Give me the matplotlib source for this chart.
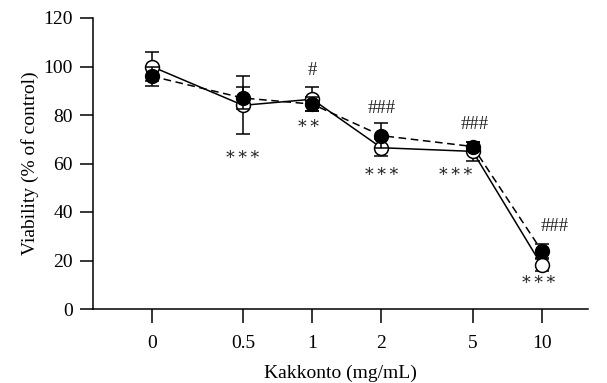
import matplotlib
matplotlib.use("Agg")
import matplotlib.pyplot as plt
import numpy as np

plt.rcParams['font.family'] = ['Liberation Serif', 'DejaVu Serif']

dose_labels = ["0", "0.5", "1", "2", "5", "10"]
dose_pos = [0.2, 0.5, 1, 2, 5, 10]   # 0 dose placed at 0.2 on the log axis

open_mean = [100, 84, 86.5, 66.5, 65, 18]
open_sd = [6, 12, 5, 3.5, 4, 2.5]
filled_mean = [96, 87, 84.5, 71.5, 67, 24]
filled_sd = [4, 4.5, 3, 5, 2, 3]

star_labels = ["", "***", "**", "***", "***", "***"]
star_y = [None, 62, 75, 55, 55, 10.5]
star_dx = [0, 0, -3, 0, -12, -2]      # horizontal nudge, points
hash_labels = ["", "", "#", "###", "###", "###"]
hash_y = [None, None, 98.5, 82.5, 76, 34]
hash_dx = [0, 0, 0, 0, 1.5, 9]

fig = plt.figure(figsize=(6.07, 3.83), dpi=100)
ax = fig.add_axes([93/607, 1-309/383, (588-93)/607, (309-18)/383])

ax.errorbar(dose_pos, open_mean, yerr=open_sd, color='black', lw=1.1,
            marker='o', ms=10, mfc='white', mec='black', mew=1.1,
            capsize=5, elinewidth=1.1, capthick=1.1, zorder=3)
ax.errorbar(dose_pos, filled_mean, yerr=filled_sd, color='black', lw=1.1,
            ls=(0, (5, 3)), marker='o', ms=10, mfc='black', mec='black',
            capsize=5, elinewidth=1.1, capthick=1.1, zorder=4)

for x, s, y, dx in zip(dose_pos, star_labels, star_y, star_dx):
    if s:
        ax.annotate("\u2009".join(s), (x, y), xytext=(dx, 0), textcoords='offset points',
                    ha='center', va='center', fontsize=12.5,
                    family=['DejaVu Serif'], color='#222222')
for x, s, y, dx in zip(dose_pos, hash_labels, hash_y, hash_dx):
    if s:
        ax.annotate(s, (x, y), xytext=(dx, 0), textcoords='offset points',
                    ha='center', va='center', fontsize=13.5, color='#222222')

ax.set_xscale('log', base=2)
ax.set_xlim(0.111, 15.9)
ax.set_ylim(0, 120)
ax.set_xticks(dose_pos)
ax.set_xticklabels(dose_labels)
ax.minorticks_off()
ax.set_yticks([0, 20, 40, 60, 80, 100, 120])

for s in ['top', 'right']:
    ax.spines[s].set_visible(False)
for s in ['left', 'bottom']:
    ax.spines[s].set_linewidth(1.1)

ax.tick_params(axis='y', length=9.4, width=1.1, labelsize=14, pad=5)
ax.tick_params(axis='x', length=10, width=1.1, labelsize=14, pad=9)
ax.set_xlabel("Kakkonto (mg/mL)", fontsize=14, labelpad=9)
ax.set_ylabel("Viability (% of control)", fontsize=14, labelpad=3)

fig.savefig("out.png", dpi=100)
